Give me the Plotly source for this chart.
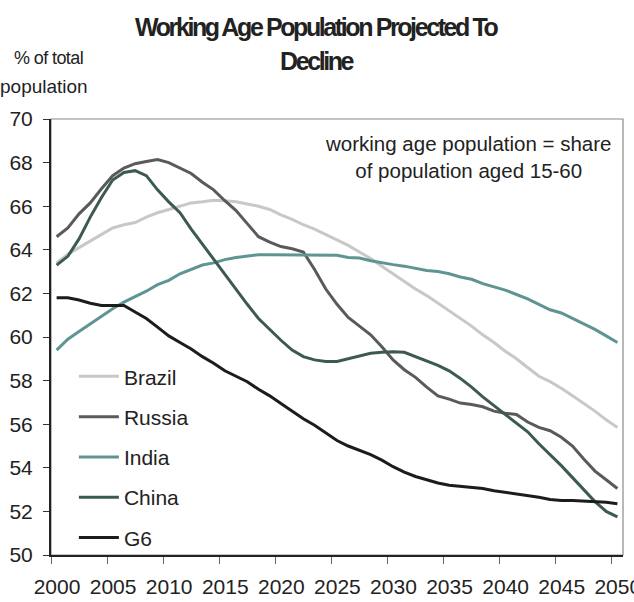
import plotly.graph_objects as go

years = list(range(2000, 2051))

brazil = [63.4, 63.8, 64.1, 64.4, 64.7, 65.0, 65.15, 65.25, 65.5, 65.7,
          65.85, 66.0, 66.15, 66.2, 66.27, 66.25, 66.2, 66.1, 66.0, 65.85,
          65.6, 65.4, 65.15, 64.95, 64.7, 64.45, 64.2, 63.9, 63.6, 63.25,
          62.9, 62.55, 62.2, 61.9, 61.55, 61.2, 60.85, 60.5, 60.1, 59.75,
          59.35, 59.0, 58.6, 58.2, 57.95, 57.65, 57.3, 56.95, 56.6, 56.2, 55.85]

russia = [64.6, 65.0, 65.65, 66.15, 66.8, 67.4, 67.75, 67.95, 68.05, 68.14,
          68.0, 67.75, 67.5, 67.1, 66.75, 66.25, 65.8, 65.2, 64.6, 64.35,
          64.15, 64.05, 63.9, 63.1, 62.2, 61.5, 60.9, 60.5, 60.1, 59.55,
          58.95, 58.5, 58.15, 57.7, 57.3, 57.15, 56.97, 56.9, 56.8, 56.6,
          56.5, 56.45, 56.1, 55.85, 55.7, 55.4, 55.0, 54.4, 53.85, 53.45, 53.05]

india = [59.4, 59.9, 60.25, 60.6, 60.95, 61.3, 61.6, 61.85, 62.1, 62.4,
         62.6, 62.9, 63.1, 63.3, 63.4, 63.55, 63.65, 63.7, 63.77, 63.77,
         63.77, 63.77, 63.77, 63.77, 63.77, 63.75, 63.65, 63.62, 63.5, 63.4,
         63.32, 63.25, 63.15, 63.05, 63.0, 62.9, 62.75, 62.65, 62.45, 62.3,
         62.15, 61.95, 61.75, 61.5, 61.25, 61.1, 60.85, 60.6, 60.35, 60.05, 59.75]

china = [63.3, 63.7, 64.5, 65.5, 66.4, 67.2, 67.55, 67.63, 67.4, 66.75,
         66.2, 65.7, 64.95, 64.25, 63.6, 62.9, 62.2, 61.5, 60.85, 60.35,
         59.85, 59.4, 59.1, 58.95, 58.88, 58.88, 59.0, 59.15, 59.25, 59.3,
         59.32, 59.3, 59.1, 58.9, 58.7, 58.45, 58.1, 57.7, 57.25, 56.85,
         56.45, 56.05, 55.65, 55.1, 54.6, 54.1, 53.55, 53.0, 52.45, 52.0, 51.75]

g6 = [61.8, 61.8, 61.7, 61.55, 61.45, 61.45, 61.45, 61.15, 60.85, 60.45,
      60.05, 59.75, 59.45, 59.1, 58.8, 58.45, 58.2, 57.95, 57.6, 57.3,
      56.95, 56.6, 56.25, 55.95, 55.6, 55.25, 55.0, 54.8, 54.6, 54.35,
      54.05, 53.8, 53.6, 53.45, 53.3, 53.2, 53.15, 53.12, 53.05, 52.95,
      52.88, 52.8, 52.72, 52.65, 52.55, 52.5, 52.5, 52.47, 52.43, 52.42, 52.35]

series_names = ["Brazil", "Russia", "India", "China", "G6"]
series_values = [brazil, russia, india, china, g6]
series_colors = ["#c8c8c8", "#5a5a5c", "#5e9592", "#3d5a52", "#1c1c1c"]

x_tick_labels = ["2000", "2005", "2010", "2015", "2020", "2025",
                 "2030", "2035", "2040", "2045", "2050"]
x_tick_pos = [int(t) - 0.5 for t in x_tick_labels]
y_ticks = list(range(50, 71, 2))

FONT = "Liberation Sans, Arial, sans-serif"

fig = go.Figure()
for name, vals, col in zip(series_names, series_values, series_colors):
    fig.add_trace(go.Scatter(
        x=years, y=vals, mode="lines", name=name, legendgroup=name,
        line=dict(color=col, width=3), hoverinfo="skip"))

fig.update_layout(
    width=634, height=602,
    margin=dict(l=51, r=11, t=119, b=47, autoexpand=False),
    paper_bgcolor="white", plot_bgcolor="white",
    font=dict(family=FONT, size=20, color="#222222"),
    showlegend=True,
    legend=dict(
        x=0.04, y=0.456, xanchor="left", yanchor="top",
        bgcolor="rgba(0,0,0,0)", borderwidth=0,
        font=dict(family=FONT, size=21, color="#222222"),
        tracegroupgap=10, itemwidth=40,
    ),
    xaxis=dict(
        range=[1999.5, 2050.5], showgrid=False, zeroline=False, automargin=False,
        tickmode="array", tickvals=x_tick_pos, ticktext=x_tick_labels,
        ticks="outside", ticklen=7, tickcolor="#666666", tickwidth=1,
        ticklabelshift=6, ticklabelstandoff=5, ticklabeloverflow="allow",
        showline=True, linecolor="#222222", linewidth=2,
        tickfont=dict(family=FONT, size=21, color="#222222"),
    ),
    yaxis=dict(
        range=[50, 70], showgrid=False, zeroline=False, automargin=False,
        tickmode="array", tickvals=y_ticks,
        ticks="outside", ticklen=6, tickcolor="#333333", tickwidth=1,
        ticklabelstandoff=6,
        showline=True, linecolor="#222222", linewidth=2,
        tickfont=dict(family=FONT, size=21, color="#222222"),
    ),
    shapes=[dict(type="rect", xref="paper", yref="paper", x0=0, x1=1, y0=0, y1=1,
                 line=dict(color="#8a8a8a", width=1.2), layer="below")],
)

TITLE_STYLE = "letter-spacing:-2.4px"
# Title (two lines)
fig.add_annotation(text=f"<span style='{TITLE_STYLE}'><b>Working Age Population Projected To</b></span>",
                   xref="paper", yref="paper",
                   x=(317 - 51) / 572, y=(555 - 27) / 436, xanchor="center", yanchor="middle",
                   showarrow=False, font=dict(family=FONT, size=25, color="#222222"))
fig.add_annotation(text=f"<span style='{TITLE_STYLE}'><b>Decline</b></span>",
                   xref="paper", yref="paper",
                   x=(317 - 51) / 572, y=(555 - 61) / 436, xanchor="center", yanchor="middle",
                   showarrow=False, font=dict(family=FONT, size=25, color="#222222"))
# Y-axis title
fig.add_annotation(text="<span style='letter-spacing:-0.6px'>% of total</span>", xref="paper", yref="paper",
                   x=(48 - 51) / 572, y=(555 - 58) / 436, xanchor="center", yanchor="middle",
                   showarrow=False, font=dict(family=FONT, size=18, color="#222222"))
fig.add_annotation(text="population", xref="paper", yref="paper",
                   x=(44 - 51) / 572, y=(555 - 86) / 436, xanchor="center", yanchor="middle",
                   showarrow=False, font=dict(family=FONT, size=19, color="#222222"))
# Note
fig.add_annotation(text="working age population = share<br>of population aged 15-60",
                   xref="paper", yref="paper",
                   x=(468 - 51) / 572, y=(555 - 157) / 436, xanchor="center", yanchor="middle",
                   align="center", showarrow=False,
                   font=dict(family=FONT, size=20.5, color="#222222"))

fig.write_html("out.html",
               config={"displayModeBar": False, "staticPlot": True},
               post_script="document.body.style.margin='0';document.body.style.overflow='hidden';")
